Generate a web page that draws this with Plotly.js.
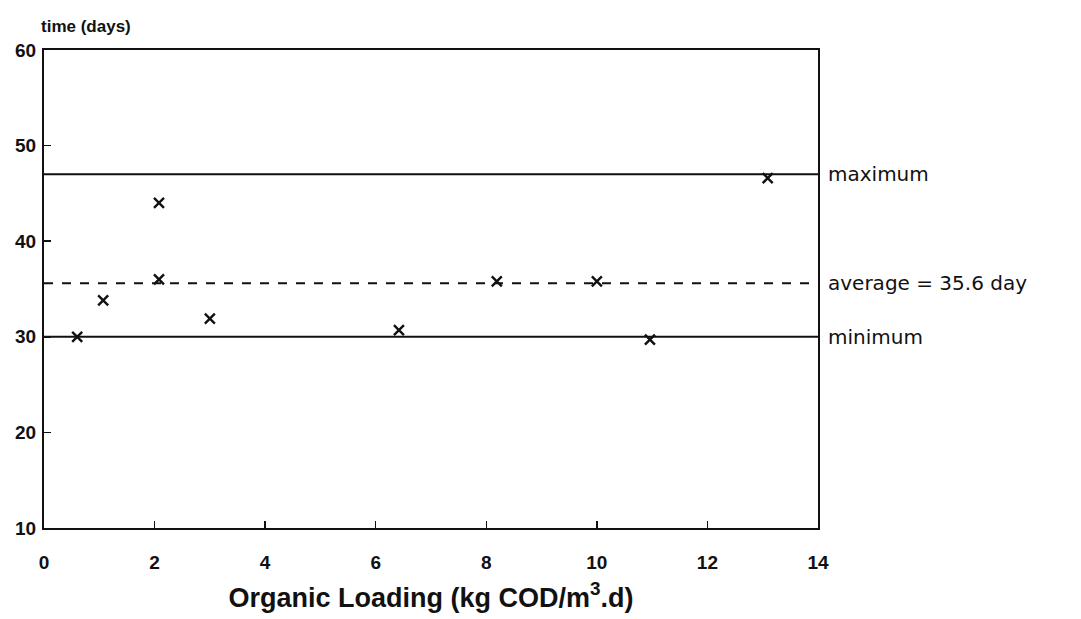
<!DOCTYPE html>
<html>
<head>
<meta charset="utf-8">
<script src="https://cdn.plot.ly/plotly-3.0.1.min.js"></script>
<style>html,body{margin:0;padding:0;background:#fff;}#chart{width:1081px;height:619px;}</style>
</head>
<body>
<div id="chart"></div>
<script>
// Data
const loading = [0.6, 1.07, 2.08, 2.08, 3.0, 6.42, 8.19, 10.0, 10.96, 13.09];
const timeDays = [30.0, 33.8, 44.0, 36.0, 31.9, 30.7, 35.8, 35.8, 29.7, 46.6];
const refNames = ["maximum", "average = 35.6 day", "minimum"];
const refValues = [47, 35.6, 30];
const refDash = ["solid", "dash", "solid"];
const xRange = [0, 14];
const yRange = [10, 60];
const xTicks = [0, 2, 4, 6, 8, 10, 12, 14];
const yTicks = [10, 20, 30, 40, 50, 60];

const traces = [];
refValues.forEach((v, i) => {
  traces.push({
    x: xRange, y: [v, v], mode: 'lines', type: 'scatter',
    line: {color: '#111', width: 2, dash: refDash[i]},
    hoverinfo: 'skip', showlegend: false
  });
});
traces.push({
  x: loading, y: timeDays, mode: 'markers', type: 'scatter',
  marker: {symbol: 'x-thin', size: 10, line: {color: '#111', width: 2.4}},
  showlegend: false
});

const annotations = refValues.map((v, i) => ({
  xref: 'paper', yref: 'y', x: 1.01, y: v, xanchor: 'left', yanchor: 'middle',
  text: refNames[i], showarrow: false,
  font: {family: 'DejaVu Sans', size: 20, color: '#111'}
}));
annotations.push({
  xref: 'paper', yref: 'paper', x: -0.006, y: 1.025, xanchor: 'left', yanchor: 'bottom',
  text: '<b>time (days)</b>', showarrow: false,
  font: {family: 'Liberation Sans', size: 17, color: '#111'}
});

const tf = {family: 'Liberation Sans', size: 19, color: '#111', weight: 'bold'};

const layout = {
  width: 1081, height: 619,
  margin: {l: 44, r: 263, t: 50, b: 91},
  paper_bgcolor: '#fff', plot_bgcolor: '#fff',
  showlegend: false,
  xaxis: {
    range: xRange, tickvals: xTicks, ticks: 'inside', ticklen: 7, tickwidth: 1.5, tickcolor: '#111',
    showline: true, linecolor: '#111', linewidth: 2, mirror: true,
    showgrid: false, zeroline: false, ticklabelstandoff: 16,
    tickfont: tf,
    title: {text: '<b>Organic Loading (kg COD/m<sup>3</sup>.d)</b>', standoff: 16,
            font: {family: 'Liberation Sans', size: 27, color: '#111'}}
  },
  yaxis: {
    range: yRange, tickvals: yTicks, ticks: 'inside', ticklen: 7, tickwidth: 1.5, tickcolor: '#111',
    showline: true, linecolor: '#111', linewidth: 2, mirror: true,
    showgrid: false, zeroline: false, ticklabelstandoff: 2,
    tickfont: tf
  },
  annotations: annotations
};

Plotly.newPlot('chart', traces, layout, {displayModeBar: false, staticPlot: true});
</script>
</body>
</html>
